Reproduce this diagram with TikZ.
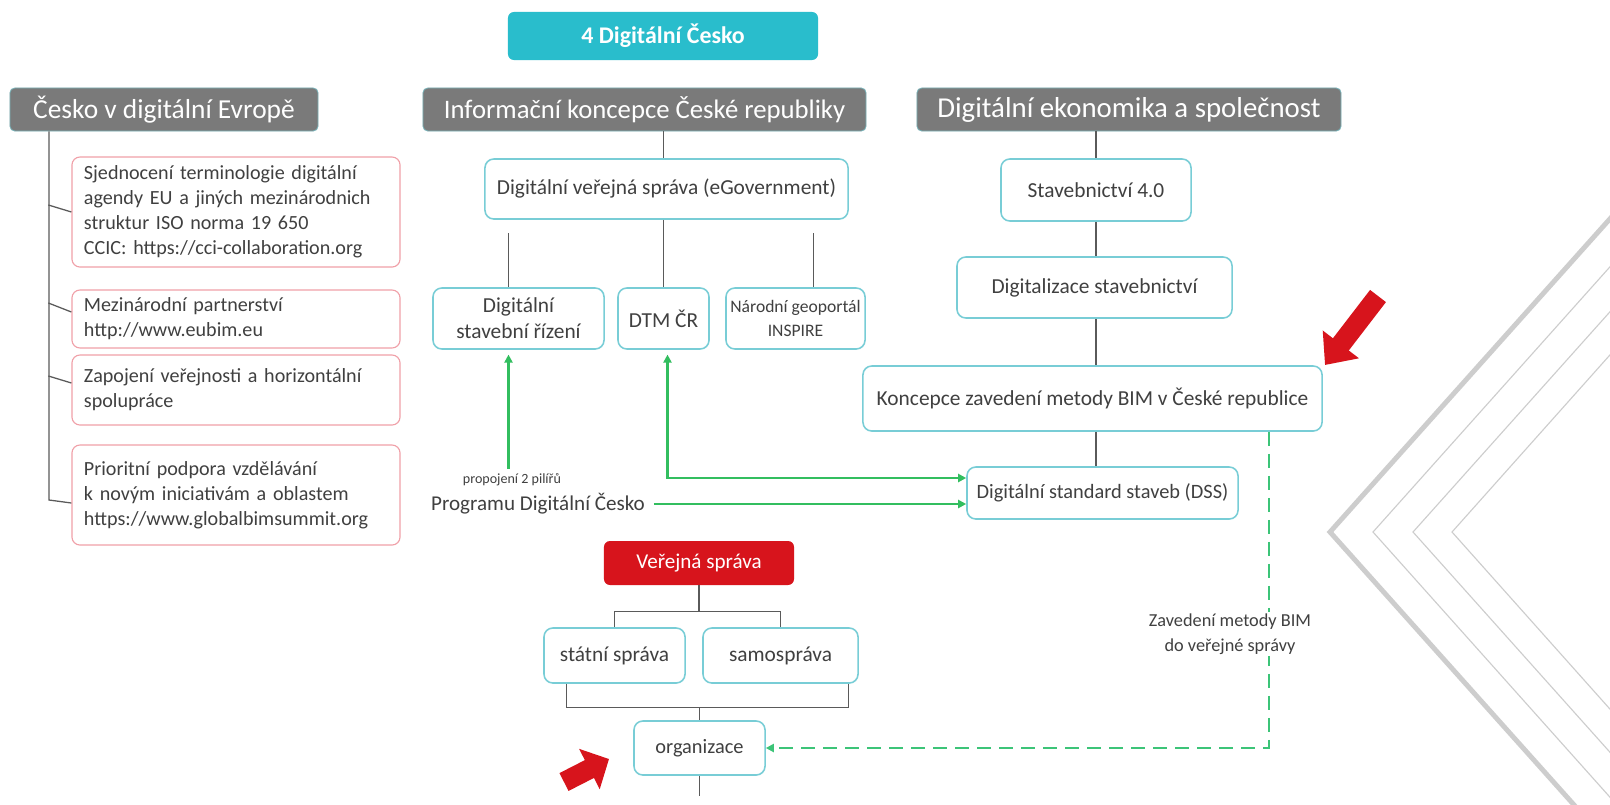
\documentclass[tikz,border=0pt]{standalone}
\usepackage{fontspec}
\setmainfont{Carlito}
\usetikzlibrary{arrows.meta}
\usetikzlibrary{calc}

\definecolor{titleteal}{RGB}{41,189,204}
\definecolor{hdgray}{RGB}{122,122,122}
\definecolor{hdedge}{RGB}{120,178,184}
\definecolor{pinkedge}{RGB}{240,160,168}
\definecolor{cyanedge}{RGB}{120,205,214}
\definecolor{vsred}{RGB}{215,20,28}
\definecolor{linegreen}{RGB}{50,190,95}
\definecolor{dashgreen}{RGB}{60,196,120}
\definecolor{txtgray}{RGB}{64,64,64}
\definecolor{conngray}{RGB}{90,90,90}
\definecolor{chevgray}{RGB}{205,205,205}

\begin{document}
\begin{tikzpicture}[x=0.025cm,y=-0.025cm,
  titlebox/.style={fill=titleteal, rounded corners=0.15cm, inner sep=0pt, text=white, font=\fontsize{17}{20}\selectfont\bfseries},
  graybox/.style={fill=hdgray, draw=hdedge, line width=0.6pt, rounded corners=0.12cm, inner sep=0pt, minimum height=1.075cm, text=white, font=\fontsize{19}{22}\selectfont},
  pinkbox/.style={draw=pinkedge, line width=0.8pt, fill=white, rounded corners=0.2cm, inner xsep=0.3cm, text width=7.6cm, align=left, text=txtgray, font=\fontsize{14.3}{17.8}\selectfont},
  cyanbox/.style={draw=cyanedge, line width=1.1pt, fill=white, rounded corners=0.22cm, inner sep=0pt, align=center, text=txtgray, font=\fontsize{15.2}{18.5}\selectfont},
  redbox/.style={fill=vsred, rounded corners=0.15cm, inner sep=0pt, text=white, font=\fontsize{15}{18}\selectfont},
  conn/.style={draw=conngray, line width=0.9pt},
  garrow/.style={draw=linegreen, line width=1.6pt, -{Triangle[length=0.2cm,width=0.2cm]}},
  gdash/.style={draw=dashgreen, line width=1.5pt, dash pattern=on 0.35cm off 0.2cm, -{Triangle[length=0.2cm,width=0.2cm]}},
  redarrow/.style={draw=vsred, line width=0.5cm, -{Triangle[length=0.65cm,width=1.1cm]}},
  chevthick/.style={draw=chevgray, line width=3.5pt},
  chevthin/.style={draw=chevgray, line width=0.8pt}]

\fill[white] (0,0) rectangle (1610,804);
\useasboundingbox (0,0) rectangle (1610,804);

% chevrons on the right
\begin{scope}
\clip (0,0) rectangle (1610,804);
\draw[chevthick] (1650,174) -- (1330,532) -- (1600,834);
\draw[chevthin] (1650,222) -- (1373,532) -- (1650,842);
\draw[chevthin] (1650,267) -- (1413,532) -- (1650,797);
\draw[chevthin] (1650,310) -- (1452,532) -- (1650,754);
\end{scope}

% top
\node[titlebox, minimum width=7.75cm, minimum height=1.2cm] (title) at (663,36) {4 Digitální Česko};
\node[graybox, minimum width=7.7cm, font=\fontsize{19.5}{22}\selectfont] (h1) at (164,109.5) {Česko v digitální Evropě};
\node[graybox, minimum width=11.075cm] (h2) at (644.5,109.5) {Informační koncepce České republiky};
\node[graybox, minimum width=10.6cm, font=\fontsize{20.5}{23}\selectfont] (h3) at (1129,109.5) {Digitální ekonomika a společnost};

% left column
\node[pinkbox, minimum height=2.75cm] (p1) at (236,212) {Sjednocení terminologie digitální\\agendy EU a jiných mezinárodnich\\struktur ISO norma 19 650\\CCIC: https://cci-collaboration.org};
\node[pinkbox, minimum height=1.45cm] (p2) at (236,319) {Mezinárodní partnerství\\http://www.eubim.eu};
\node[pinkbox, minimum height=1.75cm] (p3) at (236,390) {Zapojení veřejnosti a horizontální\\spolupráce};
\node[pinkbox, minimum height=2.5cm] (p4) at (236,495) {Prioritní podpora vzdělávání\\k novým iniciativám a oblastem\\https://www.globalbimsummit.org};

\coordinate (trunk) at (49,500);
\draw[conn] (trunk |- h1.south) -- (trunk) -- ($(p4.west)+(0,8)$);
\draw[conn] ($(p1.west)+(-23,-7)$) -- (p1.west);
\draw[conn] ($(p2.west)+(-23,-16)$) -- ($(p2.west)+(0,-7)$);
\draw[conn] ($(p3.west)+(-23,-14)$) -- ($(p3.west)+(0,-7)$);

% middle column
\node[cyanbox, minimum width=9.075cm, minimum height=1.5cm] (egov) at (666.5,189) {Digitální veřejná správa (eGovernment)};
\node[cyanbox, minimum width=4.275cm, minimum height=1.525cm] (dsr) at (518.5,318.5) {Digitální\\stavební řízení};
\node[cyanbox, minimum width=2.275cm, minimum height=1.525cm] (dtm) at (663.5,318.5) {DTM ČR};
\node[cyanbox, minimum width=3.475cm, minimum height=1.525cm, font=\fontsize{12.5}{17.5}\selectfont] (ng) at (795.5,318.5) {Národní geoportál\\INSPIRE};

\draw[conn] (dtm.north |- h2.south) -- (dtm.north |- egov.north);
\draw[conn] (dtm.north |- egov.south) -- (dtm.north);
\draw[conn] ($(dsr.north)+(-10,-54)$) -- ($(dsr.north)+(-10,0)$);
\draw[conn] ($(ng.north)+(18,-54)$) -- ($(ng.north)+(18,0)$);

% right column
\node[cyanbox, minimum width=4.75cm, minimum height=1.55cm] (stav) at (1096,190) {Stavebnictví 4.0};
\node[cyanbox, minimum width=6.875cm, minimum height=1.525cm] (dig) at (1094.5,287.5) {Digitalizace stavebnictví};
\node[cyanbox, minimum width=11.475cm, minimum height=1.625cm] (konc) at (1092.5,398.5) {Koncepce zavedení metody BIM v České republice};
\node[cyanbox, minimum width=6.775cm, minimum height=1.3cm, font=\fontsize{14.5}{18}\selectfont] (dss) at (1102.5,493) {Digitální standard staveb (DSS)};

\draw[conn] (h3.south -| stav) -- (stav.north);
\draw[conn] (stav.south) -- (stav.south |- dig.north);
\draw[conn] (stav.south |- dig.south) -- (stav.south |- konc.north);
\draw[conn] (stav.south |- konc.south) -- (stav.south |- dss.north);

% green links
\node[text=txtgray, font=\fontsize{10}{12}\selectfont] (prop1) at (512,480) {propojení 2 pilířů};
\node[text=txtgray, font=\fontsize{15}{18}\selectfont] (prop2) at (538,504) {Programu Digitální Česko};

\coordinate (g1) at ($(dsr.south)+(-10,0)$);
\draw[garrow, shorten >=0.12cm] (g1 |- prop1.north) -- (g1);
\coordinate (g2) at ($(dtm.south)+(4,0)$);
\coordinate (g2b) at ($(dss.west)+(0,-15)$);
\draw[garrow, {Triangle[length=0.2cm,width=0.2cm]}-{Triangle[length=0.2cm,width=0.2cm]}, shorten <=0.12cm] (g2) -- (g2 |- g2b) -- (g2b);
\draw[garrow] ($(prop2.east)+(4,0)$) -- (prop2.east -| dss.west);

% public administration
\node[redbox, minimum width=4.75cm, minimum height=1.1cm] (vs) at (699,563) {Veřejná správa};
\node[cyanbox, minimum width=3.525cm, minimum height=1.375cm] (state) at (614.5,655.5) {státní správa};
\node[cyanbox, minimum width=3.875cm, minimum height=1.375cm] (samo) at (780.5,655.5) {samospráva};
\node[cyanbox, minimum width=3.275cm, minimum height=1.35cm, font=\fontsize{14.5}{18}\selectfont] (org) at (699.5,748) {organizace};

\coordinate (bar1) at ($(vs.south)+(0,26)$);
\draw[conn] (vs.south) -- (bar1);
\draw[conn] (state.north) -- (state.north |- bar1) -- (samo.north |- bar1) -- (samo.north);
\coordinate (bar2) at ($(org.north)+(0,-13)$);
\coordinate (sa) at ($(state.south west)+(23,0)$);
\coordinate (sb) at ($(samo.south east)+(-10,0)$);
\draw[conn] (sa) -- (sa |- bar2) -- (sb |- bar2) -- (sb);
\draw[conn] (bar2) -- (org.north);
\coordinate (orgend) at ($(org.south)+(0,20)$);
\draw[conn] (org.south) -- (orgend);

% dashed link to organizace
\coordinate (dcorner) at ($(konc.south east)+(-54,0)$);
\draw[gdash] (dcorner) -- (dcorner |- org.east) -- (org.east);
\node[fill=white, align=center, text=txtgray, font=\fontsize{13}{18}\selectfont, inner sep=1pt] (bimlab) at (1230,634) {Zavedení metody BIM\\do veřejné správy};

% red pointers
\coordinate (ra1s) at (1378,296);
\coordinate (ra1e) at (1325,365);
\draw[redarrow] (ra1s) -- (ra1e);
\coordinate (ra2s) at (564,782);
\coordinate (ra2e) at (609,759);
\draw[redarrow, -{Triangle[length=0.55cm,width=1.1cm]}] (ra2s) -- (ra2e);
\end{tikzpicture}
\end{document}
